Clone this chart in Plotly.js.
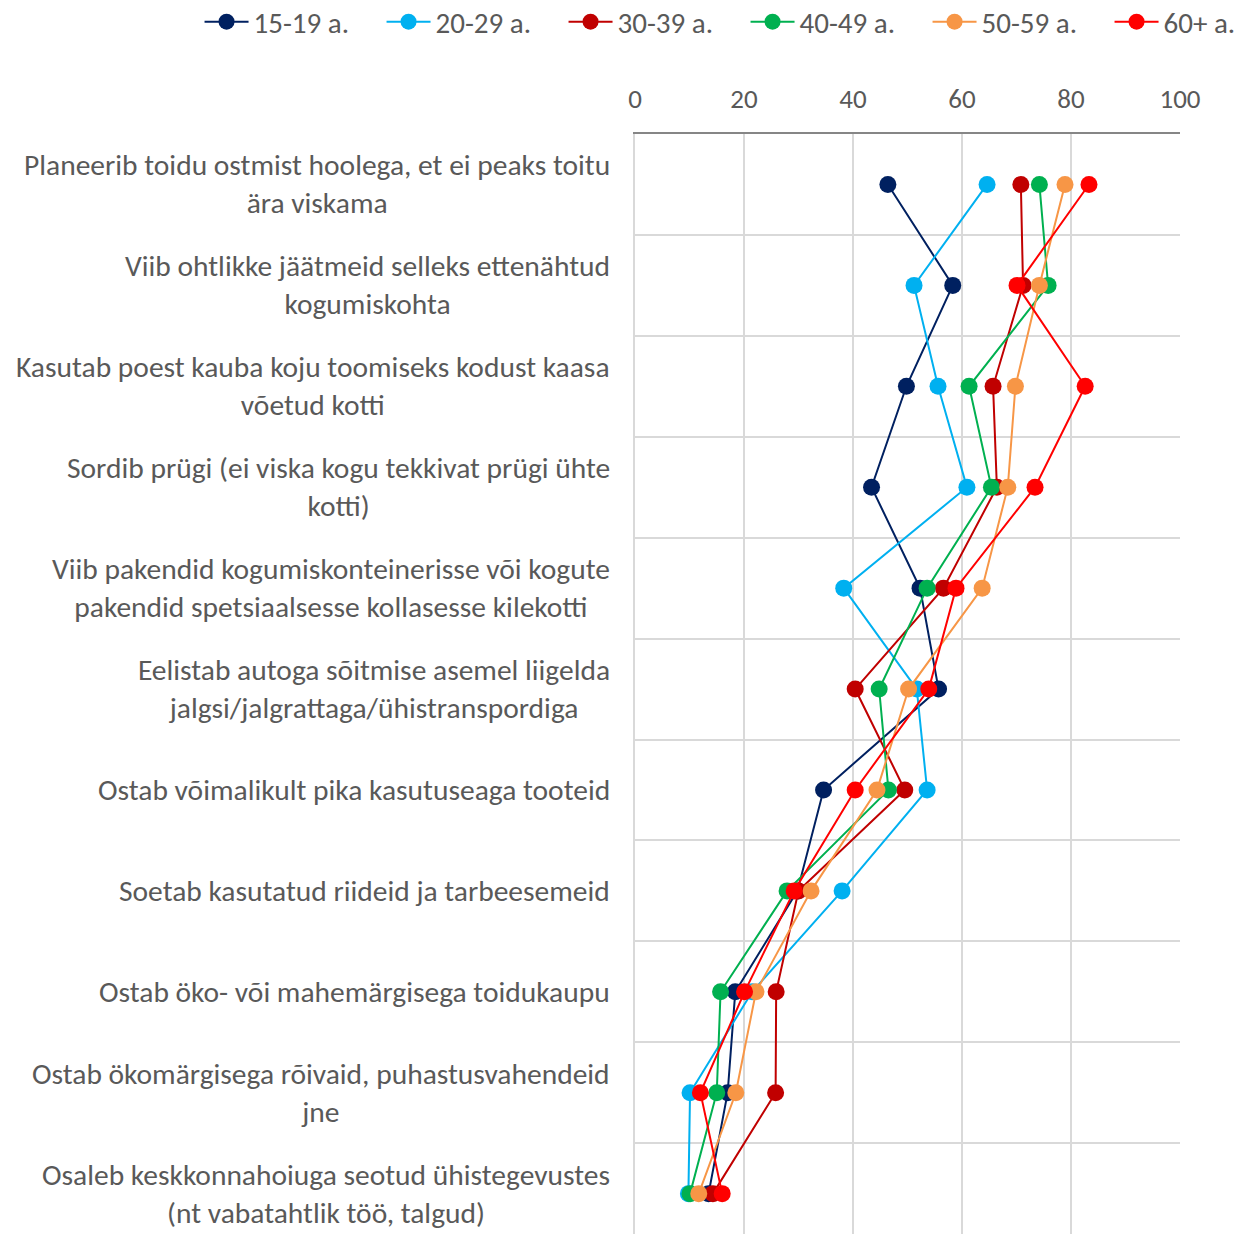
<!DOCTYPE html>
<html>
<head>
<meta charset="utf-8">
<script src="https://cdn.plot.ly/plotly-3.0.1.min.js"></script>
<style>
  html, body { margin: 0; padding: 0; background: #ffffff; }
  #chart { width: 1250px; height: 1234px; }
</style>
</head>
<body>
<div id="chart"></div>
<script>
// kategooriad (ülevalt alla)
const categories = [
    'Planeerib toidu ostmist hoolega, et ei peaks toitu<br>ära viskama',
    'Viib ohtlikke jäätmeid selleks ettenähtud<br>kogumiskohta',
    'Kasutab poest kauba koju toomiseks kodust kaasa<br>võetud kotti',
    'Sordib prügi (ei viska kogu tekkivat prügi ühte<br>kotti)',
    'Viib pakendid kogumiskonteinerisse või kogute<br>pakendid spetsiaalsesse kollasesse kilekotti',
    'Eelistab autoga sõitmise asemel liigelda<br>jalgsi/jalgrattaga/ühistranspordiga',
    'Ostab võimalikult pika kasutuseaga tooteid',
    'Soetab kasutatud riideid ja tarbeesemeid',
    'Ostab öko- või mahemärgisega toidukaupu',
    'Ostab ökomärgisega rõivaid, puhastusvahendeid<br>jne',
    'Osaleb keskkonnahoiuga seotud ühistegevustes<br>(nt vabatahtlik töö, talgud)'
];

const groupNames = ['15-19 a.', '20-29 a.', '30-39 a.', '40-49 a.', '50-59 a.', '60+ a.'];
const groupColors = ['#002060', '#00B0F0', '#C00000', '#00B050', '#F79646', '#FF0000'];

const age15_19 = [46.4, 58.3, 49.8, 43.4, 52.3, 55.7, 34.6, 29.8, 18.4, 17.0, 13.5];
const age20_29 = [64.6, 51.2, 55.6, 60.9, 38.3, 51.7, 53.6, 38.0, 21.5, 10.1, 9.8];
const age30_39 = [70.8, 71.2, 65.7, 66.4, 56.6, 40.4, 49.5, 30.0, 25.9, 25.8, 14.3];
const age40_49 = [74.2, 75.8, 61.3, 65.4, 53.6, 44.8, 46.5, 27.9, 15.7, 15.0, 10.1];
const age50_59 = [78.9, 74.2, 69.8, 68.4, 63.7, 50.2, 44.4, 32.3, 22.2, 18.5, 11.7];
const age60 = [83.3, 70.1, 82.6, 73.4, 58.9, 53.9, 40.4, 29.2, 20.1, 12.0, 16.0];

const seriesValues = [age15_19, age20_29, age30_39, age40_49, age50_59, age60];

const FONT = 'Carlito, Lato, "Open Sans", sans-serif';
const TEXT_COLOR = '#595959';
const catIndex = categories.map((c, i) => i);

const traces = seriesValues.map((vals, i) => ({
    x: vals,
    y: catIndex,
    type: 'scatter',
    mode: 'lines+markers',
    name: groupNames[i],
    line: { color: groupColors[i], width: 2 },
    marker: { color: groupColors[i], size: 17 },
    hoverinfo: 'x+name'
}));

// kategooriate nimed vasakul
const annotations = categories.map((c, i) => ({
    xref: 'paper',
    yref: 'y',
    x: -0.0425,
    y: i,
    xanchor: 'right',
    yanchor: 'middle',
    align: 'center',
    showarrow: false,
    text: c,
    font: { family: FONT, size: 29.5, color: TEXT_COLOR }
}));

const layout = {
    width: 1250,
    height: 1234,
    margin: { l: 635, r: 70, t: 134, b: 0, autoexpand: false },
    paper_bgcolor: '#ffffff',
    plot_bgcolor: '#ffffff',
    font: { family: FONT, color: TEXT_COLOR },
    showlegend: true,
    legend: {
        orientation: 'h',
        x: -0.799,
        xanchor: 'left',
        y: 1.102,
        yanchor: 'middle',
        font: { family: FONT, size: 29, color: TEXT_COLOR },
        entrywidth: 123,
        itemwidth: 44,
        traceorder: 'normal'
    },
    xaxis: {
        side: 'top',
        range: [0, 100],
        tickmode: 'linear',
        tick0: 0,
        dtick: 20,
        showgrid: true,
        gridcolor: '#d9d9d9',
        gridwidth: 1.5,
        showline: true,
        linecolor: '#868686',
        linewidth: 1.5,
        zeroline: false,
        ticks: '',
        ticklabelstandoff: 13,
        tickfont: { family: FONT, size: 27, color: TEXT_COLOR },
        fixedrange: true
    },
    yaxis: {
        range: [10.4, -0.5],
        tickmode: 'linear',
        tick0: 0,
        dtick: 1,
        showgrid: false,
        showticklabels: false,
        ticks: '',
        showline: true,
        linecolor: '#d9d9d9',
        linewidth: 1.5,
        zeroline: false,
        minor: {
            tick0: 0.5,
            dtick: 0.5,
            showgrid: true,
            gridcolor: '#d9d9d9',
            gridwidth: 1.5,
            ticks: ''
        },
        fixedrange: true
    },
    annotations: annotations
};

Plotly.newPlot('chart', traces, layout, { displayModeBar: false, responsive: false });
</script>
</body>
</html>
